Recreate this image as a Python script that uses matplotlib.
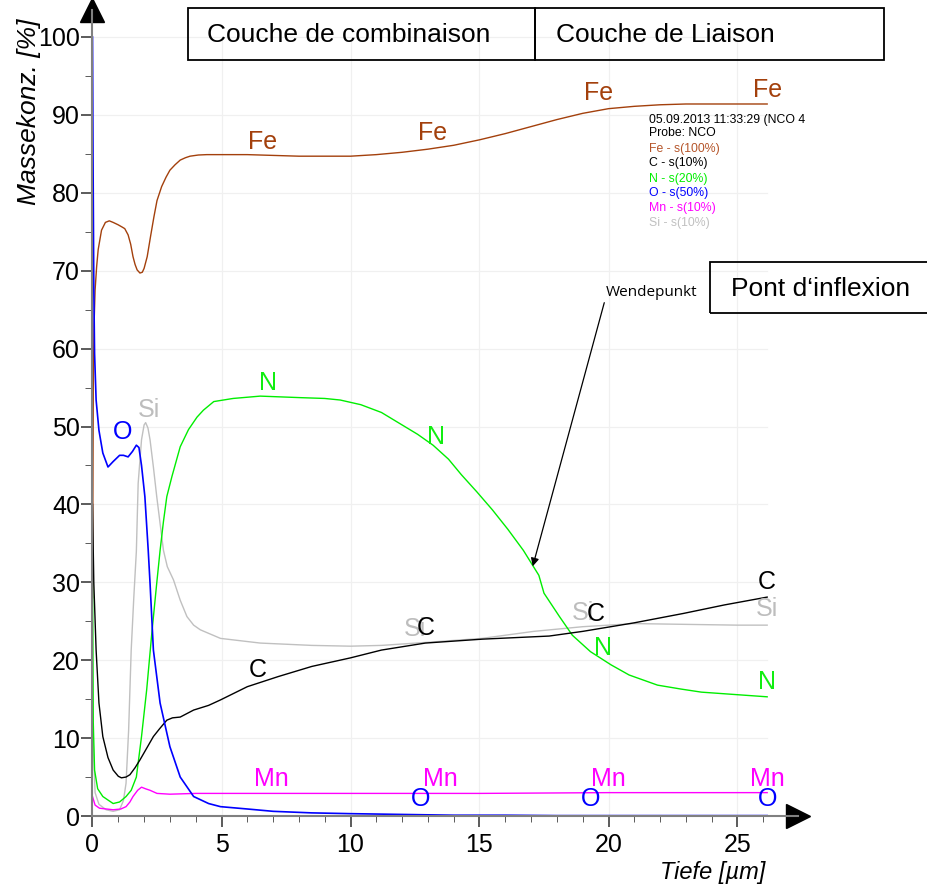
import numpy as np
import matplotlib
matplotlib.use("Agg")
import matplotlib.pyplot as plt
from matplotlib.patches import Rectangle, FancyArrowPatch
from matplotlib.ticker import MultipleLocator

plt.rcParams['font.family'] = ['Liberation Sans', 'DejaVu Sans']

# ------------------------------------------------------
# Depth profiles (GDOES), depth in um, mass concentration in %
fe_x = [0, 0.03, 0.06, 0.1, 0.16, 0.22, 0.35, 0.5, 0.65, 0.8, 0.99, 1.15, 1.25, 1.38,
        1.48, 1.57, 1.65, 1.73, 1.84, 1.93, 2.0, 2.12, 2.25, 2.38, 2.5, 2.68, 2.85, 3.0,
        3.2, 3.4, 3.6, 3.78, 4.1, 4.43, 5, 6, 7, 8, 9, 10, 11, 12, 13, 14, 15, 16, 17,
        18, 19, 20, 21, 22, 23, 24, 25, 26.15]
fe_y = [28, 55, 63, 67.5, 70.5, 72.7, 75.2, 76.2, 76.4, 76.2, 75.9, 75.6, 75.4, 74.6,
        73.4, 71.8, 70.8, 70.1, 69.7, 69.8, 70.3, 71.8, 74.4, 76.9, 79.0, 80.8, 82.0,
        82.9, 83.6, 84.2, 84.5, 84.7, 84.85, 84.9, 84.9, 84.9, 84.8, 84.7, 84.7, 84.7,
        84.9, 85.2, 85.6, 86.1, 86.8, 87.6, 88.5, 89.4, 90.2, 90.8, 91.1, 91.3, 91.4,
        91.4, 91.4, 91.4]

c_x = [0, 0.05, 0.14, 0.25, 0.4, 0.6, 0.8, 1.0, 1.12, 1.3, 1.45, 1.65, 1.84, 2.1, 2.36,
       2.6, 2.88, 3.1, 3.4, 3.92, 4.5, 4.96, 6, 7.2, 8.5, 10, 11.2, 12.9, 15.1, 17.7, 19,
       21, 22.9, 24.5, 26.15]
c_y = [40, 30, 21.3, 14.5, 10.2, 7.5, 5.9, 5.1, 4.9, 5.0, 5.3, 6.2, 7.2, 8.7, 10.2,
       11.2, 12.3, 12.6, 12.7, 13.6, 14.2, 14.9, 16.6, 17.9, 19.2, 20.3, 21.3, 22.2,
       22.7, 23.1, 23.7, 24.8, 26.0, 27.1, 28.1]

n_x = [0, 0.03, 0.08, 0.2, 0.4, 0.8, 1.05, 1.3, 1.5, 1.7, 1.9, 2.1, 2.3, 2.49, 2.62,
       2.75, 2.88, 3.08, 3.4, 3.72, 4.05, 4.3, 4.7, 5.45, 6.5, 7.3, 8.1, 9, 9.6, 10.4,
       11.2, 12, 12.6, 13.2, 13.8, 14.3, 14.9, 15.5, 16.1, 16.7, 17.3, 17.5, 18.1, 18.6,
       19.3, 20.1, 20.8, 21.9, 22.8, 23.6, 25.3, 26.15]
n_y = [32, 12, 5.9, 3.5, 2.5, 1.6, 1.8, 2.5, 3.3, 5.0, 10.2, 16.2, 23.5, 29.9, 34.1,
       37.8, 41.0, 43.6, 47.4, 49.6, 51.2, 52.1, 53.2, 53.6, 53.9, 53.8, 53.7, 53.6,
       53.4, 52.8, 51.8, 50.2, 49.0, 47.6, 45.8, 43.8, 41.6, 39.3, 36.8, 34.1, 30.9,
       28.6, 25.6, 23.2, 21.1, 19.4, 18.1, 16.8, 16.3, 15.9, 15.5, 15.3]

o_x = [0, 0.02, 0.05, 0.08, 0.14, 0.25, 0.4, 0.6, 0.8, 1.05, 1.2, 1.38, 1.55, 1.7, 1.8,
       1.9, 2.03, 2.16, 2.23, 2.36, 2.62, 3.0, 3.4, 3.92, 4.5, 4.96, 6, 7, 8.5, 10, 12,
       14, 16, 18, 20, 22, 24, 26.15]
o_y = [100, 85, 68, 59.4, 53.4, 49.5, 46.6, 44.8, 45.5, 46.3, 46.3, 46.1, 46.8, 47.6,
       47.3, 45.0, 41.0, 34.1, 29.9, 21.3, 14.5, 8.9, 5.0, 2.5, 1.6, 1.2, 0.9, 0.6, 0.4,
       0.3, 0.2, 0.1, 0.1, 0.05, 0.05, 0.05, 0.05, 0.05]

mn_x = [0, 0.1, 0.27, 0.8, 1.1, 1.3, 1.45, 1.57, 1.75, 1.9, 2.05, 2.23, 2.5, 3, 4, 6,
        10, 15, 20, 25, 26.15]
mn_y = [2.5, 1.4, 1.0, 0.8, 0.9, 1.2, 1.8, 2.5, 3.3, 3.7, 3.5, 3.3, 2.9, 2.8, 2.9, 2.9,
        2.9, 2.9, 3.0, 3.0, 3.0]

si_x = [0, 0.1, 0.25, 0.53, 0.8, 1.05, 1.2, 1.3, 1.4, 1.5, 1.6, 1.7, 1.77, 1.9, 2.0,
        2.06, 2.15, 2.23, 2.36, 2.49, 2.75, 2.9, 3.14, 3.4, 3.66, 3.92, 4.18, 4.96, 6.5,
        8.5, 10, 11.2, 13, 15.1, 17.1, 19, 21, 23, 25, 26.15]
si_y = [12, 3.0, 1.5, 0.8, 0.6, 0.8, 2.0, 4.2, 11, 21.3, 28, 34, 42.7, 48.3, 50.2, 50.5,
        49.8, 48.3, 44.8, 41, 34.1, 32.0, 30.3, 27.7, 25.6, 24.5, 23.9, 22.8, 22.2, 21.9,
        21.8, 21.9, 22.3, 22.8, 23.7, 24.3, 24.7, 24.6, 24.5, 24.5]

# element labels written on the curves: (x, y)
fe_lab = [(6.6, 86.5), (13.2, 87.7), (19.6, 92.8), (26.15, 93.2)]
n_lab = [(6.8, 55.6), (13.3, 48.7), (19.8, 21.6), (26.15, 17.2)]
si_lab = [(2.2, 52.1), (12.5, 24.0), (19.0, 26.1), (26.15, 26.6)]
c_lab = [(6.4, 18.7), (12.9, 24.1), (19.5, 25.9), (26.15, 30.0)]
o_lab = [(1.15, 49.3), (12.7, 2.2), (19.3, 2.2), (26.15, 2.2)]
mn_lab = [(6.95, 4.8), (13.5, 4.8), (20.0, 4.8), (26.15, 4.8)]

legend_lines = ["05.09.2013 11:33:29 (NCO 4", "Probe: NCO", "Fe - s(100%)", "C - s(10%)",
                "N - s(20%)", "O - s(50%)", "Mn - s(10%)", "Si - s(10%)"]
# ------------------------------------------------------

FE = '#a3400c'
N = '#00ee00'
O = '#0000ff'
MN = '#ff00ff'
SI = '#c0c0c0'
C = '#000000'

W, H = 928, 885
fig = plt.figure(figsize=(W / 100, H / 100), dpi=100)
x0, y0, x1, y1 = 92.5, 816, 798, 10
ax = fig.add_axes([x0 / W, (H - y0) / H, (x1 - x0) / W, (y0 - y1) / H])
ax.set_xlim(0, (x1 - x0) / 25.8)
ax.set_ylim(0, (y0 - y1) / 7.79)

# light grid only inside the data area
for g in range(10, 101, 10):
    ax.plot([0, 26.15], [g, g], color='#f0f0f0', lw=0.9, zorder=0)
for g in range(5, 26, 5):
    ax.plot([g, g], [0, 100], color='#f0f0f0', lw=0.9, zorder=0)

ax.plot(si_x, si_y, color=SI, lw=1.0)
ax.plot(fe_x, fe_y, color=FE, lw=1.0)
ax.plot(n_x, n_y, color=N, lw=1.0)
ax.plot(c_x, c_y, color=C, lw=1.0)
ax.plot(mn_x, mn_y, color=MN, lw=1.0)
ax.plot(o_x, o_y, color=O, lw=1.2)

for labs, txt, col in [(si_lab, 'Si', '#bdbdbd'), (fe_lab, 'Fe', FE), (n_lab, 'N', '#11ee11'),
                       (c_lab, 'C', C), (o_lab, 'O', O), (mn_lab, 'Mn', MN)]:
    for lx, ly in labs:
        ax.text(lx, ly, txt, color=col, fontsize=18, ha='center', va='center')

for s in ['top', 'right']:
    ax.spines[s].set_visible(False)
for s in ['left', 'bottom']:
    ax.spines[s].set_color('#808080')
    ax.spines[s].set_linewidth(1.5)
ax.plot(1, 0, '>k', ms=17, transform=ax.transAxes, clip_on=False)
ax.plot(0, 1, '^k', ms=17, transform=ax.transAxes, clip_on=False)

ax.xaxis.set_minor_locator(MultipleLocator(1))
ax.yaxis.set_minor_locator(MultipleLocator(5))
ax.set_xticks([0, 5, 10, 15, 20, 25])
ax.set_yticks(range(0, 101, 10))
ax.tick_params(axis='both', which='major', labelsize=18, color='#404040', width=1.2)
ax.tick_params(axis='y', which='major', length=8, pad=1)
ax.tick_params(axis='y', which='minor', length=5, color='#404040')
ax.tick_params(axis='x', which='major', length=8, pad=4)
ax.tick_params(axis='x', which='minor', length=4, color='#404040')

fig.text(29 / W, 1 - 112 / H, 'Massekonz. [%]', rotation=90, style='italic',
         fontsize=19, ha='center', va='center')
fig.text(713 / W, 1 - 872 / H, 'Tiefe [µm]', style='italic', fontsize=17,
         ha='center', va='center')

# framed headings
for (bx0, bx1, by0, by1, tx, txt) in [(188, 535, 8, 60, 207, 'Couche de combinaison'),
                                      (535, 884, 8, 60, 556, 'Couche de Liaison'),
                                      (710, 940, 262, 313, 731, 'Pont d\u2018inflexion')]:
    fig.patches.append(Rectangle((bx0 / W, 1 - by1 / H), (bx1 - bx0) / W, (by1 - by0) / H,
                                 transform=fig.transFigure, fill=False, ec='black', lw=1.3))
    fig.text(tx / W, 1 - (by0 + by1 + 2) / 2 / H, txt, fontsize=19, ha='left', va='center')

# small sample legend
leg_cols = ['black', 'black', '#b5552a', 'black', N, O, MN, SI]
leg_y = [120, 133, 149, 163, 179, 193, 208, 223]
clip = Rectangle((0, 0), 808 / W, 1, transform=fig.transFigure)
for txt, col, yy in zip(legend_lines, leg_cols, leg_y):
    t = fig.text(649 / W, 1 - yy / H, txt, fontsize=8.8, color=col, ha='left', va='center')
    t.set_clip_path(clip)

# Wendepunkt arrow
fig.text(606 / W, 1 - 292 / H, 'Wendepunkt', fontsize=11, family='Open Sans',
         ha='left', va='center')
fig.add_artist(FancyArrowPatch((605 / W, 1 - 300 / H), (532 / W, 1 - 569 / H),
               transform=fig.transFigure, arrowstyle='-|>', mutation_scale=12,
               color='black', lw=0.9))

fig.savefig('out.png', dpi=100)
